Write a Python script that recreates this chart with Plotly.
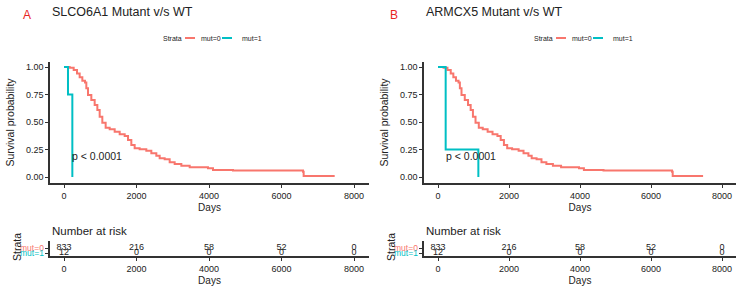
import plotly.graph_objects as go

# ---------------- data ----------------
km_days_wt = [0, 156, 267, 359, 432, 506, 579, 616, 662, 754, 846, 920, 984, 1057, 1149,
              1260, 1398, 1536, 1674, 1766, 1857, 1949, 2087, 2271, 2409, 2547, 2639, 2777,
              2915, 3053, 3237, 3467, 3743, 3972, 4110, 4662, 6501, 6593, 6611, 7467]
km_surv_wt = [1.0, 0.994, 0.973, 0.942, 0.906, 0.876, 0.858, 0.806, 0.745, 0.70, 0.655, 0.609,
              0.548, 0.494, 0.448, 0.433, 0.412, 0.388, 0.373, 0.336, 0.291, 0.261, 0.252,
              0.239, 0.215, 0.194, 0.170, 0.161, 0.133, 0.118, 0.103, 0.088, 0.088, 0.079,
              0.064, 0.058, 0.058, 0.048, 0.010, 0.010]

km_days_mut_a = [0, 110, 230]
km_surv_mut_a = [1.0, 0.75, 0.0]
km_days_mut_b = [0, 216, 1137]
km_surv_mut_b = [1.0, 0.25, 0.0]

risk_times = [0, 2000, 4000, 6000, 8000]
risk_wt = [833, 216, 58, 52, 0]
risk_mut = [12, 0, 0, 0, 0]

panel_titles = ["SLCO6A1 Mutant v/s WT", "ARMCX5 Mutant v/s WT"]
panel_letters = ["A", "B"]
strata_labels = ["mut=0", "mut=1"]
y_ticks = [0, 0.25, 0.5, 0.75, 1.0]
y_ticktext = ["0.00", "0.25", "0.50", "0.75", "1.00"]
x_ticks = [0, 2000, 4000, 6000, 8000]

# ---------------- style ----------------
W, H = 750, 298
RED = "#F8766D"
TEAL = "#00BFC4"
FONT = "Liberation Sans, Arial, sans-serif"
TXT = "#222222"
AX = "#333333"

def px(x):
    return x / W

def py(y):
    return 1 - y / H

fig = go.Figure()

panels = [
    dict(x0=50, x1=369, z0=64, z8=354, mut_d=km_days_mut_a, mut_s=km_surv_mut_a, leg=161),
    dict(x0=424, x1=736, z0=438, z8=722, mut_d=km_days_mut_b, mut_s=km_surv_mut_b, leg=532),
]

annotations = []
shapes = []
layout_axes = {}

for i, p in enumerate(panels):
    k = 2 * i + 1  # plot axes index
    r = 2 * i + 2  # risk axes index
    sfx_k = "" if k == 1 else str(k)
    sfx_r = str(r)
    dpp = 8000 / (p["z8"] - p["z0"])
    xr = [-(p["z0"] - p["x0"]) * dpp, 8000 + (p["x1"] - p["z8"]) * dpp]
    common_x = dict(range=xr, domain=[px(p["x0"]), px(p["x1"])], tickvals=x_ticks,
                    showline=True, linecolor=AX, linewidth=1.5, ticks="outside",
                    ticklen=3, tickcolor=AX, showgrid=False, zeroline=False,
                    tickfont=dict(family=FONT, size=9, color=TXT),
                    title=dict(text="Days", font=dict(family=FONT, size=10, color=TXT), standoff=4))
    layout_axes["xaxis" + sfx_k] = dict(common_x, anchor="y" + sfx_k)
    layout_axes["xaxis" + sfx_r] = dict(common_x, anchor="y" + sfx_r)
    # plot y axis: 1.00 at 67 px, 0.00 at 177 px; domain 62..183
    ppu = 110
    yr = [-(183 - 177) / ppu, 1 + (67 - 62) / ppu]
    layout_axes["yaxis" + sfx_k] = dict(
        range=yr, domain=[py(183), py(62)], anchor="x" + sfx_k, tickvals=y_ticks,
        ticktext=y_ticktext, showline=True, linecolor=AX, linewidth=1.5, ticks="outside",
        ticklen=3, tickcolor=AX, showgrid=False, zeroline=False,
        tickfont=dict(family=FONT, size=9, color=TXT),
        title=dict(text="Survival probability", font=dict(family=FONT, size=10.5, color=TXT), standoff=9))
    # risk y axis: mut=0 row at 248 px (y=1), mut=1 row at 253 px (y=0), axis at 256
    rpu = 5
    ryr = [-(256 - 253) / rpu, 1 + (248 - 241) / rpu]
    layout_axes["yaxis" + sfx_r] = dict(
        range=ryr, domain=[py(256), py(241)], anchor="x" + sfx_r, tickvals=[1, 0],
        ticktext=["", ""], showline=True, linecolor=AX, linewidth=1.5, ticks="outside",
        ticklen=3, tickcolor=AX, showgrid=False, zeroline=False, showticklabels=False)

    # curves
    fig.add_trace(go.Scatter(x=km_days_wt, y=km_surv_wt, mode="lines", line_shape="hv",
                             line=dict(color=RED, width=2), name="mut=0",
                             xaxis="x" + sfx_k, yaxis="y" + sfx_k, showlegend=False))
    fig.add_trace(go.Scatter(x=p["mut_d"], y=p["mut_s"], mode="lines", line_shape="hv",
                             line=dict(color=TEAL, width=2), name="mut=1",
                             xaxis="x" + sfx_k, yaxis="y" + sfx_k, showlegend=False))
    # risk table numbers
    fig.add_trace(go.Scatter(x=risk_times, y=[1] * len(risk_times), mode="text",
                             text=[str(v) for v in risk_wt],
                             textfont=dict(family=FONT, size=9, color=TXT),
                             xaxis="x" + sfx_r, yaxis="y" + sfx_r, showlegend=False))
    fig.add_trace(go.Scatter(x=risk_times, y=[0] * len(risk_times), mode="text",
                             text=[str(v) for v in risk_mut],
                             textfont=dict(family=FONT, size=9, color=TXT),
                             xaxis="x" + sfx_r, yaxis="y" + sfx_r, showlegend=False))

    # p-value
    annotations.append(dict(x=(p["x0"] + 20 - p["z0"]) * dpp, y=0.19, xref="x" + sfx_k,
                            yref="y" + sfx_k, text="p < 0.0001", showarrow=False,
                            xanchor="left", yanchor="middle",
                            font=dict(family=FONT, size=10.5, color=TXT)))
    # title and letter
    annotations.append(dict(x=px(p["x0"]), y=py(12), xref="paper", yref="paper",
                            text=panel_titles[i], showarrow=False, xanchor="left",
                            yanchor="middle", font=dict(family=FONT, size=12.5, color=TXT)))
    annotations.append(dict(x=px(p["x0"] - 29 if i == 0 else p["x0"] - 36), y=py(15),
                            xref="paper", yref="paper", text=panel_letters[i],
                            showarrow=False, xanchor="left", yanchor="middle",
                            font=dict(family=FONT, size=12, color="#E8251F")))
    # legend
    lx = p["leg"]
    annotations.append(dict(x=px(lx), y=py(38), xref="paper", yref="paper", text="Strata",
                            showarrow=False, xanchor="left", yanchor="middle",
                            font=dict(family=FONT, size=7, color=TXT)))
    shapes.append(dict(type="line", xref="paper", yref="paper", x0=px(lx + 24), x1=px(lx + 34),
                       y0=py(38), y1=py(38), line=dict(color=RED, width=2)))
    annotations.append(dict(x=px(lx + 38), y=py(38), xref="paper", yref="paper",
                            text=strata_labels[0], showarrow=False, xanchor="left",
                            yanchor="middle", font=dict(family=FONT, size=7, color=TXT)))
    shapes.append(dict(type="line", xref="paper", yref="paper", x0=px(lx + 61), x1=px(lx + 71),
                       y0=py(38), y1=py(38), line=dict(color=TEAL, width=2)))
    annotations.append(dict(x=px(lx + 79), y=py(38), xref="paper", yref="paper",
                            text=strata_labels[1], showarrow=False, xanchor="left",
                            yanchor="middle", font=dict(family=FONT, size=7, color=TXT)))
    # risk table header and labels
    annotations.append(dict(x=px(p["x0"]), y=py(231), xref="paper", yref="paper",
                            text="Number at risk", showarrow=False, xanchor="left",
                            yanchor="middle", font=dict(family=FONT, size=11.5, color=TXT)))
    annotations.append(dict(x=px(p["x0"] - 4), y=1, xref="paper", yref="y" + sfx_r,
                            text=strata_labels[0], showarrow=False, xanchor="right",
                            yanchor="middle", font=dict(family=FONT, size=8.5, color=RED)))
    annotations.append(dict(x=px(p["x0"] - 4), y=0, xref="paper", yref="y" + sfx_r,
                            text=strata_labels[1], showarrow=False, xanchor="right",
                            yanchor="middle", font=dict(family=FONT, size=8.5, color=TEAL)))
    annotations.append(dict(x=px(p["x0"] - 33), y=py(247), xref="paper", yref="paper",
                            text="Strata", showarrow=False, textangle=-90, xanchor="center",
                            yanchor="middle", font=dict(family=FONT, size=10.5, color=TXT)))

fig.update_layout(width=W, height=H, margin=dict(l=0, r=0, t=0, b=0),
                  paper_bgcolor="white", plot_bgcolor="white",
                  annotations=annotations, shapes=shapes, **layout_axes)

fig.write_html("out.html")
